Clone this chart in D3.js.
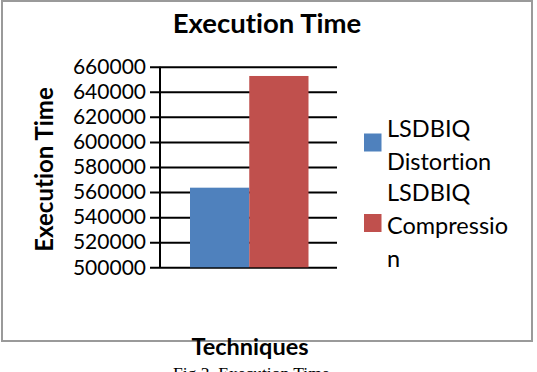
<!DOCTYPE html>
<html>
<head>
<meta charset="utf-8">
<script src="https://cdn.jsdelivr.net/npm/d3@7"></script>
<style>
  html, body { margin: 0; padding: 0; background: #fff; }
  svg { display: block; }
  text { font-family: Lato, "Open Sans", sans-serif; fill: #000; font-variant-ligatures: none; font-feature-settings: "liga" 0, "clig" 0; }
</style>
</head>
<body>
<svg id="chart" width="537" height="372"></svg>
<script>
// ---- data ----
const categories = ["Techniques"];
const seriesNames = ["LSDBIQ Distortion", "LSDBIQ Compression"];
const seriesValues = [563500, 652600];
const legendLines = [["LSDBIQ", "Distortion"], ["LSDBIQ", "Compressio", "n"]];
const tickValues = [500000, 520000, 540000, 560000, 580000, 600000, 620000, 640000, 660000];
const colors = ["#4F81BD", "#C0504D"];
const chartTitle = "Execution Time";
const yTitle = "Execution Time";
const xTitle = "Techniques";
const caption = "Fig.3. Execution Time";

const svg = d3.select("#chart");

// frame
svg.append("rect").attr("x", 2).attr("y", 1).attr("width", 530).attr("height", 340)
  .attr("fill", "#fff").attr("stroke", "#9a9a9a").attr("stroke-width", 2);

const y = d3.scaleLinear().domain([500000, 660000]).range([267.3, 66.7]);
const x = d3.scaleBand().domain(seriesNames).range([190, 308.5]).padding(0);

// gridlines + axis
const yAxis = d3.axisLeft(y).tickValues(tickValues).tickSize(10).tickPadding(4)
  .tickFormat(d3.format("d"));
const gAxis = svg.append("g").attr("transform", "translate(160,0)").call(yAxis);
gAxis.select(".domain").remove();
gAxis.selectAll(".tick line").attr("stroke", "#000").attr("stroke-width", 2)
  .attr("x1", -10).attr("x2", 177);
gAxis.selectAll(".tick text").attr("font-size", 21).attr("fill", "#000")
  .style("font-family", "Lato, sans-serif");
svg.append("line").attr("x1", 160).attr("x2", 160)
  .attr("y1", y(660000)).attr("y2", y(500000))
  .attr("stroke", "#000").attr("stroke-width", 2);

// bars
svg.append("g").selectAll("rect").data(seriesNames).join("rect")
  .attr("x", d => x(d))
  .attr("width", x.bandwidth())
  .attr("y", (d, i) => y(seriesValues[i]))
  .attr("height", (d, i) => y(500000) - y(seriesValues[i]))
  .attr("fill", (d, i) => colors[i]);

// titles
svg.append("text").attr("x", 267).attr("y", 33).attr("text-anchor", "middle")
  .attr("font-size", 27.5).attr("font-weight", "bold").text(chartTitle);
svg.append("text").attr("transform", "translate(52.5,169.5) rotate(-90)")
  .attr("text-anchor", "middle").attr("font-size", 24).attr("font-weight", "bold").text(yTitle);
svg.append("text").attr("x", 250).attr("y", 355).attr("text-anchor", "middle")
  .attr("font-size", 23.5).attr("font-weight", "bold").text(xTitle);

// legend
const legendTop = [128, 192];
const lineH = 33;
legendLines.forEach((lines, i) => {
  const mid = legendTop[i] + (lines.length === 2 ? lineH / 2 : lineH);
  const sqH = 18;
  svg.append("rect").attr("x", 364).attr("y", mid - sqH / 2 - 2)
    .attr("width", 17.5).attr("height", sqH).attr("fill", colors[i]);
  lines.forEach((t, j) => {
    svg.append("text").attr("x", 387).attr("y", legendTop[i] + j * lineH + 8.5)
      .attr("font-size", 23.5).text(t);
  });
});

// caption (cut off at bottom, as in the reference)
svg.append("text").attr("x", 173).attr("y", 379)
  .style("font-family", "'Liberation Serif', 'DejaVu Serif', serif")
  .attr("font-size", 17.5).text(caption);
</script>
</body>
</html>
